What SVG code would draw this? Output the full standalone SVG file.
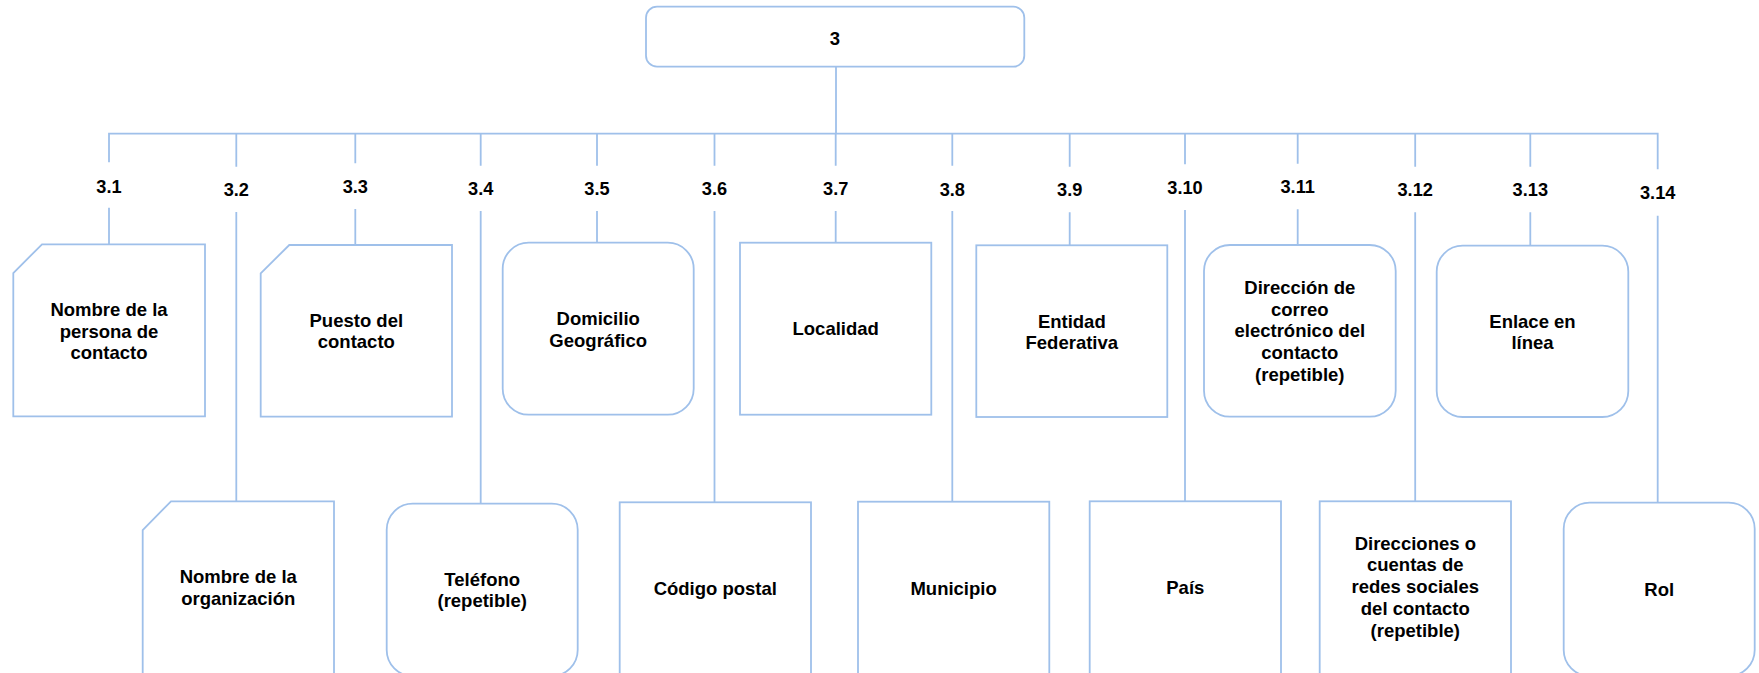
<svg xmlns="http://www.w3.org/2000/svg" width="1759" height="673" viewBox="0 0 1759 673">
<style>
.n{fill:#fff;stroke:#9fc0ea;stroke-width:1.8}
.c{fill:none;stroke:#9fc0ea;stroke-width:1.8}
.t{font-family:"Liberation Sans",Arial,sans-serif;font-weight:bold;font-size:18.5px;fill:#000;text-anchor:middle}
.l{font-family:"Liberation Sans",Arial,sans-serif;font-weight:bold;font-size:18.2px;fill:#000;text-anchor:middle}
</style>
<rect width="1759" height="673" fill="#fff"/>
<g id="connectors">
<path class="c" d="M109,162.3 V133.7 H1657.7 V169.3"/>
<path class="c" d="M836,66.7 V133.7"/>
<path class="c" d="M109,207.7 V244.3"/>
<path class="c" d="M236.3,133.7 V166.7 M236.3,212 V501.3"/>
<path class="c" d="M355.3,133.7 V163.3 M355.3,209 V245"/>
<path class="c" d="M480.7,133.7 V165.7 M480.7,211 V503.7"/>
<path class="c" d="M597,133.7 V165.7 M597,211 V242.7"/>
<path class="c" d="M714.5,133.7 V165.7 M714.5,211 V502.3"/>
<path class="c" d="M835.7,133.7 V165.7 M835.7,211 V242.7"/>
<path class="c" d="M952.3,133.7 V165.7 M952.3,211 V501.7"/>
<path class="c" d="M1069.7,133.7 V166.7 M1069.7,212.3 V245.3"/>
<path class="c" d="M1185,133.7 V164.3 M1185,210 V501.3"/>
<path class="c" d="M1297.7,133.7 V163.7 M1297.7,209.3 V245"/>
<path class="c" d="M1415.2,133.7 V166.7 M1415.2,212.3 V501.3"/>
<path class="c" d="M1530.3,133.7 V166.7 M1530.3,212.3 V245.7"/>
<path class="c" d="M1657.7,215.7 V502.7"/>
</g>
<g id="labels">
<text class="l" x="109" y="193.1">3.1</text>
<text class="l" x="236.3" y="195.7">3.2</text>
<text class="l" x="355.3" y="193.1">3.3</text>
<text class="l" x="480.7" y="195.4">3.4</text>
<text class="l" x="597" y="195.4">3.5</text>
<text class="l" x="714.5" y="195.4">3.6</text>
<text class="l" x="835.7" y="195.4">3.7</text>
<text class="l" x="952.3" y="196.4">3.8</text>
<text class="l" x="1069.7" y="196.4">3.9</text>
<text class="l" x="1185" y="194.1">3.10</text>
<text class="l" x="1297.7" y="193.1">3.11</text>
<text class="l" x="1415.2" y="196.4">3.12</text>
<text class="l" x="1530.3" y="196.4">3.13</text>
<text class="l" x="1657.7" y="198.7">3.14</text>
</g>
<g id="n3">
<rect class="n" x="646" y="6.7" width="378.3" height="60" rx="11"/>
<text class="t" x="835" y="44.8">3</text>
</g>
<g id="n3_1">
<path class="n" d="M42,244.3 H205 V416.3 H13.3 V273 Z"/>
<text class="t" x="109" y="315.8"><tspan x="109">Nombre de la</tspan><tspan x="109" dy="21.7">persona de</tspan><tspan x="109" dy="21.7">contacto</tspan></text>
</g>
<g id="n3_2">
<path class="n" d="M171,501.3 H334 V676 H142.7 V530 Z"/>
<text class="t" x="238.3" y="583.2"><tspan x="238.3">Nombre de la</tspan><tspan x="238.3" dy="21.7">organización</tspan></text>
</g>
<g id="n3_3">
<path class="n" d="M289.3,245 H452 V416.7 H260.7 V273.3 Z"/>
<text class="t" x="356.3" y="326.5"><tspan x="356.3">Puesto del</tspan><tspan x="356.3" dy="21.7">contacto</tspan></text>
</g>
<g id="n3_4">
<rect class="n" x="386.7" y="503.7" width="191" height="172.3" rx="26"/>
<text class="t" x="482.2" y="585.5"><tspan x="482.2">Teléfono</tspan><tspan x="482.2" dy="21.7">(repetible)</tspan></text>
</g>
<g id="n3_5">
<rect class="n" x="502.7" y="242.7" width="191" height="172" rx="26"/>
<text class="t" x="598.2" y="324.8"><tspan x="598.2">Domicilio</tspan><tspan x="598.2" dy="21.7">Geográfico</tspan></text>
</g>
<g id="n3_6">
<rect class="n" x="619.7" y="502.3" width="191.3" height="173.7"/>
<text class="t" x="715.3" y="595.4">Código postal</text>
</g>
<g id="n3_7">
<rect class="n" x="740" y="242.7" width="191.3" height="172"/>
<text class="t" x="835.7" y="335.2">Localidad</text>
</g>
<g id="n3_8">
<rect class="n" x="858" y="501.7" width="191.3" height="174.3"/>
<text class="t" x="953.6" y="595.4">Municipio</text>
</g>
<g id="n3_9">
<rect class="n" x="976.3" y="245.3" width="191" height="171.7"/>
<text class="t" x="1071.8" y="327.6"><tspan x="1071.8">Entidad</tspan><tspan x="1071.8" dy="21.7">Federativa</tspan></text>
</g>
<g id="n3_10">
<rect class="n" x="1089.7" y="501.3" width="191.3" height="174.7"/>
<text class="t" x="1185.3" y="594.2">País</text>
</g>
<g id="n3_11">
<rect class="n" x="1204" y="245" width="191.7" height="171.7" rx="26"/>
<text class="t" x="1299.8" y="293.9"><tspan x="1299.8">Dirección de</tspan><tspan x="1299.8" dy="21.7">correo</tspan><tspan x="1299.8" dy="21.7">electrónico del</tspan><tspan x="1299.8" dy="21.7">contacto</tspan><tspan x="1299.8" dy="21.7">(repetible)</tspan></text>
</g>
<g id="n3_12">
<rect class="n" x="1319.7" y="501.3" width="191.3" height="174.7"/>
<text class="t" x="1415.3" y="549.7"><tspan x="1415.3">Direcciones o</tspan><tspan x="1415.3" dy="21.7">cuentas de</tspan><tspan x="1415.3" dy="21.7">redes sociales</tspan><tspan x="1415.3" dy="21.7">del contacto</tspan><tspan x="1415.3" dy="21.7">(repetible)</tspan></text>
</g>
<g id="n3_13">
<rect class="n" x="1436.7" y="245.7" width="191.6" height="171.3" rx="26"/>
<text class="t" x="1532.5" y="327.6"><tspan x="1532.5">Enlace en</tspan><tspan x="1532.5" dy="21.7">línea</tspan></text>
</g>
<g id="n3_14">
<rect class="n" x="1563.7" y="502.7" width="191" height="173.3" rx="26"/>
<text class="t" x="1659.2" y="596.4">Rol</text>
</g>
</svg>
